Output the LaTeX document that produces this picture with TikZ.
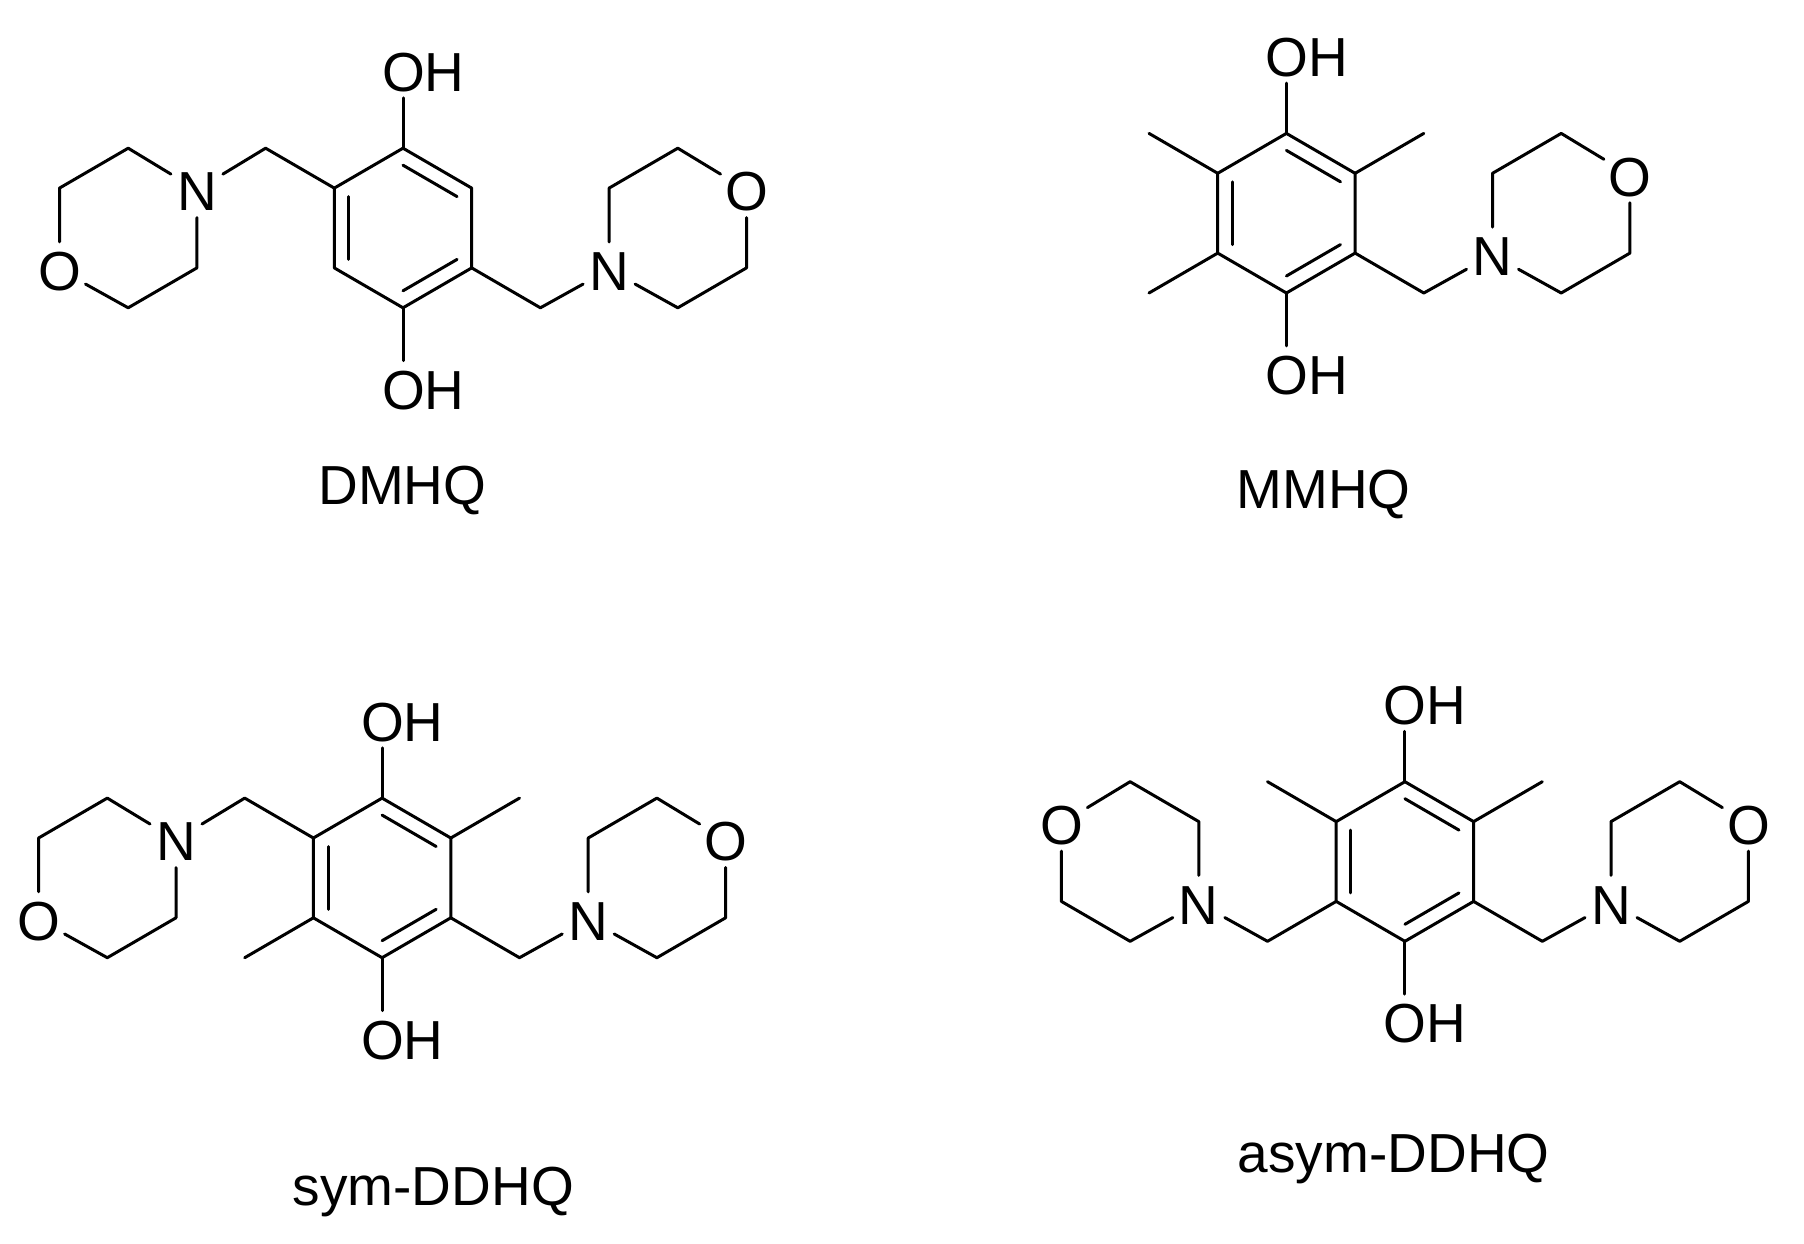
\documentclass[tikz,border=0pt]{standalone}
\usepackage{fontspec}
\setmainfont{Liberation Sans}
\usetikzlibrary{calc}
\tikzset{
  bond/.style={line width=3pt,line cap=round,line join=round,black},
  atomlab/.style={inner sep=0pt,outer sep=0pt,anchor=base,minimum width=52pt,
    text height=48.85pt,text depth=6.65pt,
    font=\fontsize{55}{60}\selectfont},
  ohlab/.style={inner sep=0pt,outer sep=0pt,anchor=base west,
    text height=48.85pt,text depth=6.65pt,
    font=\fontsize{55}{60}\selectfont},
  namelab/.style={inner sep=0pt,outer sep=0pt,anchor=base,
    font=\fontsize{55}{60}\selectfont},
  grid/.style={x=68.7pt,y=-39.9pt}
}
% ring with its three inner double-bond lines and both OH groups
\newcommand{\hqring}[1]{
  \coordinate (#1c) at (0,0);
  \coordinate (#11) at (0,-2);
  \coordinate (#12) at (1,-1);
  \coordinate (#13) at (1,1);
  \coordinate (#14) at (0,2);
  \coordinate (#15) at (-1,1);
  \coordinate (#16) at (-1,-1);
  \draw[bond] (#11)--(#12)--(#13)--(#14)--(#15)--(#16)--cycle;
  \draw[bond] ($(#1c)!0.787!(#11)$)--($(#1c)!0.787!(#12)$);
  \draw[bond] ($(#1c)!0.787!(#13)$)--($(#1c)!0.787!(#14)$);
  \draw[bond] ($(#1c)!0.787!(#15)$)--($(#1c)!0.787!(#16)$);
  \node[ohlab] (#1top) at ([xshift=-21pt,yshift=-22.85pt]0,-4) {OH};
  \node[ohlab] (#1bot) at ([xshift=-21pt,yshift=-21.85pt]0,4) {OH};
  \draw[bond] (#11)--(#11 |- #1top.south);
  \draw[bond] (#14)--(#14 |- #1bot.north);
}
% morpholine: name, N, a, b, O, c, d, CH2, ring atom
\newcommand{\morph}[9]{
  \coordinate (#1ch) at (#8);
  \coordinate (#1a) at (#3);
  \coordinate (#1b) at (#4);
  \coordinate (#1c) at (#6);
  \coordinate (#1d) at (#7);
  \node[atomlab] (#1N) at ([yshift=-22.85pt]#2) {N};
  \node[atomlab] (#1O) at ([yshift=-22.85pt]#5) {O};
  \draw[bond] (#9)--(#1ch)--(#1N);
  \draw[bond] (#1N)--(#1a)--(#1b)--(#1O);
  \draw[bond] (#1O)--(#1c)--(#1d)--(#1N);
}
\newcommand{\methyl}[3]{
  \coordinate (#1) at (#2);
  \draw[bond] (#3)--(#1);
}
\begin{document}
\begin{tikzpicture}[x=1pt,y=1pt]
\useasboundingbox (0,0) rectangle (1804,-1244);
% DMHQ
\begin{scope}[shift={(403.0,-228.0)},grid]
  \hqring{a}
  \morph{al}{-3,-1}{-4,-2}{-5,-1}{-5,1}{-4,2}{-3,1}{-2,-2}{a6}
  \morph{ar}{3,1}{3,-1}{4,-2}{5,-1}{5,1}{4,2}{2,2}{a3}
\end{scope}
\node[namelab] (nameA) at (402.4,-504.7) {DMHQ};
% MMHQ
\begin{scope}[shift={(1286.4,-213.2)},grid]
  \hqring{b}
  \methyl{bm1}{-2,-2}{b6}
  \methyl{bm2}{-2,2}{b5}
  \methyl{bm3}{2,-2}{b2}
  \morph{br}{3,1}{3,-1}{4,-2}{5,-1}{5,1}{4,2}{2,2}{b3}
\end{scope}
\node[namelab] (nameB) at (1323.7,-508.5) {MMHQ};
% sym-DDHQ
\begin{scope}[shift={(382.1,-877.9)},grid]
  \hqring{c}
  \methyl{cm1}{2,-2}{c2}
  \methyl{cm2}{-2,2}{c5}
  \morph{cl}{-3,-1}{-4,-2}{-5,-1}{-5,1}{-4,2}{-3,1}{-2,-2}{c6}
  \morph{cr}{3,1}{3,-1}{4,-2}{5,-1}{5,1}{4,2}{2,2}{c3}
\end{scope}
\node[namelab] (nameC) at (433.4,-1205.7) {sym-DDHQ};
% asym-DDHQ
\begin{scope}[shift={(1404.9,-861.5)},grid]
  \hqring{d}
  \methyl{dm1}{-2,-2}{d6}
  \methyl{dm2}{2,-2}{d2}
  \morph{dl}{-3,1}{-3,-1}{-4,-2}{-5,-1}{-5,1}{-4,2}{-2,2}{d5}
  \morph{dr}{3,1}{3,-1}{4,-2}{5,-1}{5,1}{4,2}{2,2}{d3}
\end{scope}
\node[namelab] (nameD) at (1393.7,-1172.7) {asym-DDHQ};
\end{tikzpicture}
\end{document}
